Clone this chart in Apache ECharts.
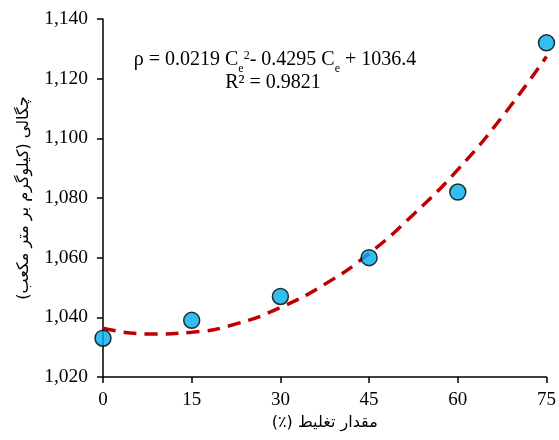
<!DOCTYPE html>
<html>
<head>
<meta charset="utf-8">
<script src="https://cdn.jsdelivr.net/npm/echarts@6/dist/echarts.min.js"></script>
<style>
  html, body { margin: 0; padding: 0; background: #fff; }
  #chart { width: 559px; height: 440px; }
</style>
</head>
<body>
<div id="chart"></div>
<script>
// dosage (%) and measured density
const dosage = [0, 15, 30, 45, 60, 75]
const density = [1033, 1039, 1047, 1060, 1082, 1132]
// trend curve
const trendX = [0, 7.5, 15, 22.5, 30, 37.5, 45, 52.5, 60, 67.5, 75]
const trendY = [1036.4, 1034.4, 1035.0, 1037.8, 1043.3, 1051.1, 1061.4, 1074.5, 1089.5, 1107.2, 1127.4]
const yTicks = { min: 1020, max: 1140, step: 20 }
// RLE ... PDF so the persian titles lay out right-to-left
const xTitle = '\u202Bمقدار تغلیط (٪)\u202C'
const yTitle = '\u202Bچگالی (کیلوگرم بر متر مکعب)\u202C'

const serif = '"Liberation Serif", "Times New Roman", serif'
const persian = '"DejaVu Sans", sans-serif'
const chart = echarts.init(document.getElementById('chart'))

const option = {
  animation: false,
  grid: { left: 103, right: 11, top: 19, bottom: 63 },
  xAxis: {
    type: 'value',
    min: 0,
    max: 75,
    interval: 15,
    name: xTitle,
    nameLocation: 'middle',
    nameGap: 37,
    nameTextStyle: { fontFamily: persian, fontSize: 16, color: '#000' },
    axisLine: { lineStyle: { color: '#000', width: 1.5 } },
    axisTick: { show: true, length: 6, lineStyle: { color: '#000', width: 1.5 } },
    axisLabel: { fontFamily: serif, fontSize: 19, color: '#000', margin: 14 },
    splitLine: { show: false }
  },
  yAxis: {
    type: 'value',
    min: yTicks.min,
    max: yTicks.max,
    interval: yTicks.step,
    name: yTitle,
    nameLocation: 'middle',
    nameGap: 71,
    nameTextStyle: { fontFamily: persian, fontSize: 16, color: '#000' },
    axisLine: { show: true, lineStyle: { color: '#000', width: 1.5 } },
    axisTick: { show: true, length: 6, lineStyle: { color: '#000', width: 1.5 } },
    axisLabel: {
      fontFamily: serif,
      fontSize: 19.5,
      color: '#000',
      margin: 15,
      formatter: v => v.toLocaleString('en-US')
    },
    splitLine: { show: false }
  },
  series: [
    {
      type: 'line',
      data: trendX.map((x, i) => [x, trendY[i]]),
      smooth: true,
      showSymbol: false,
      lineStyle: { color: '#C00000', width: 3.5, type: [13, 8] },
      z: 2
    },
    {
      type: 'scatter',
      data: dosage.map((x, i) => [x, density[i]]),
      symbol: 'circle',
      symbolSize: 16,
      itemStyle: { color: '#00AEEF', borderColor: '#000', borderWidth: 1.5 },
      z: 3
    }
  ],
  graphic: [
    {
      type: 'text',
      x: 275,
      y: 60,
      style: {
        text: '{t|ρ = 0.0219 C}{sub|e}{sup|2}{t|- 0.4295 C}{sub|e}{t| + 1036.4}',
        align: 'center',
        verticalAlign: 'middle',
        rich: {
          t: { fontFamily: serif, fontSize: 20, fill: '#000', lineHeight: 24 },
          sub: { fontFamily: serif, fontSize: 12, fill: '#000', lineHeight: 14, verticalAlign: 'bottom', padding: [0, 0, -3, 0] },
          sup: { fontFamily: serif, fontSize: 12, fill: '#000', lineHeight: 14, verticalAlign: 'top', padding: [2, 0, 0, 0] }
        }
      }
    },
    {
      type: 'text',
      x: 273,
      y: 83,
      style: { text: 'R² = 0.9821', fontFamily: serif, fontSize: 20, fill: '#000', align: 'center', verticalAlign: 'middle' }
    }
  ]
}

chart.setOption(option)
</script>
</body>
</html>
